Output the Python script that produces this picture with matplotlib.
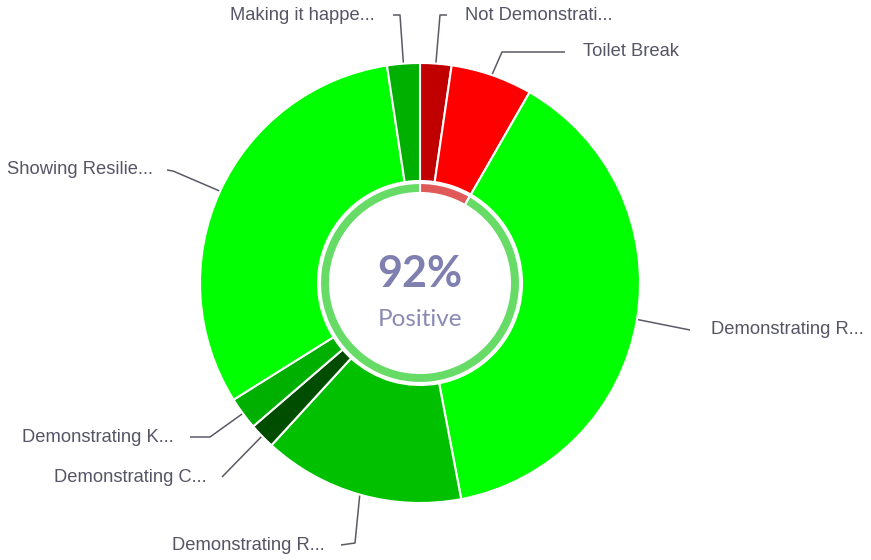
import matplotlib
matplotlib.use("Agg")
import matplotlib.pyplot as plt
import numpy as np

# ---- data ----
categories = ["Not Demonstrati...", "Toilet Break", "Demonstrating R...",
              "Demonstrating R...", "Demonstrating C...", "Demonstrating K...",
              "Showing Resilie...", "Making it happe..."]
values = [2.3, 6.0, 38.7, 14.8, 1.9, 2.4, 31.5, 2.4]
is_positive = [False, False, True, True, True, True, True, True]
slice_colors = ["#c00000", "#ff0000", "#00ff00", "#00c000", "#004d00",
                "#00b000", "#00ff00", "#00b000"]
center_value = "92%"
center_label = "Positive"

# ---- figure ----
W, H = 871, 560
fig = plt.figure(figsize=(W / 100, H / 100), dpi=100)
ax = fig.add_axes([0, 0, 1, 1])

def P(x, y):
    return (x, H - y)

cx, cy = P(420, 283)
R_out, R_in = 220, 102

wedges, _ = ax.pie(values, colors=slice_colors, startangle=90, counterclock=False,
                   radius=R_out, center=(cx, cy),
                   wedgeprops=dict(width=R_out - R_in, edgecolor="white", linewidth=1.5))

neg = sum(v for v, p in zip(values, is_positive) if not p)
pos = sum(v for v, p in zip(values, is_positive) if p)
ax.pie([neg, pos], colors=["#e05a5a", "#66dc66"], startangle=90, counterclock=False,
       radius=100, center=(cx, cy),
       wedgeprops=dict(width=10, edgecolor="white", linewidth=1.5))

ax.text(cx, cy + 9, center_value, ha="center", va="center", fontsize=31,
        fontweight="bold", color="#7f7fb0", family=["Lato", "DejaVu Sans"])
ax.text(cx, cy - 37, center_label, ha="center", va="center", fontsize=17.5,
        color="#8a8ab5", family=["Lato", "DejaVu Sans"])

# label layout: (elbow px, end px, text px, ha)
layout = [
    ((440, 15), (447, 15), (465, 15), "left"),
    ((502, 52), (565, 52), (583, 52), "left"),
    ((690, 330), (690, 330), (711, 329), "left"),
    ((355, 543), (341, 545), (325, 545), "right"),
    ((222, 477), (222, 477), (207, 477), "right"),
    ((210, 437), (190, 437), (174, 438), "right"),
    ((173, 171), (167, 170), (153, 170), "right"),
    ((400, 15), (393, 15), (375, 15), "right"),
]

cum = 0.0
total = sum(values)
for v, lab, (elb, end, tp, ha) in zip(values, categories, layout):
    mid = (cum + v / 2) / total * 360.0
    cum += v
    th = np.deg2rad(mid)
    sx = cx + (R_out + 1) * np.sin(th)
    sy = cy + (R_out + 1) * np.cos(th)
    ex, ey = P(*elb)
    nx, ny = P(*end)
    ax.plot([sx, ex, nx], [sy, ey, ny], color="#5a5a66", lw=1.1, solid_capstyle="butt")
    tx, ty = P(*tp)
    ax.text(tx, ty, lab, ha=ha, va="center", fontsize=13.2, color="#555566",
            family=["Liberation Sans", "DejaVu Sans"])

ax.set_xlim(0, W)
ax.set_ylim(0, H)
ax.set_aspect("equal")
ax.axis("off")
fig.savefig("out.png", dpi=100, facecolor="white")
